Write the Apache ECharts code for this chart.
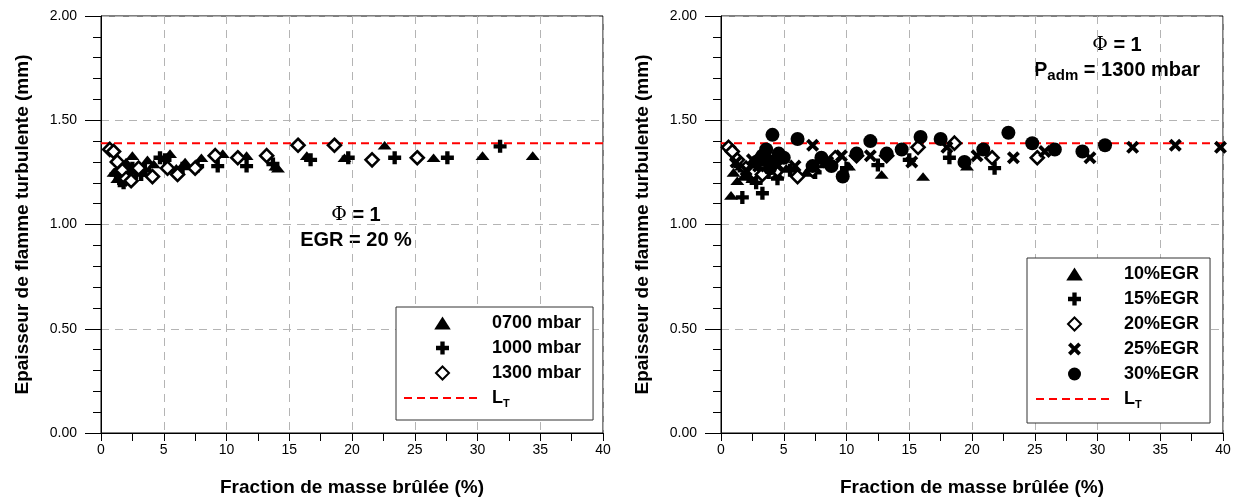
<!DOCTYPE html>
<html><head><meta charset="utf-8">
<script src="https://cdn.jsdelivr.net/npm/echarts@6/dist/echarts.min.js"></script>
<style>html,body{margin:0;padding:0;background:#fff}#c{width:1237px;height:499px}</style>
</head><body><div id="c"></div>
<script>
// ---- data ----
const LT = 1.39;
const xAxisTitle = 'Fraction de masse brûlée (%)';
const yAxisTitle = 'Epaisseur de flamme turbulente (mm)';
const leftNames = ['0700 mbar', '1000 mbar', '1300 mbar'];
const rightNames = ['10%EGR', '15%EGR', '20%EGR', '25%EGR', '30%EGR'];

const p0700 = [[1.0,1.25],[1.3,1.22],[1.6,1.28],[1.8,1.25],[2.0,1.30],[2.3,1.27],[2.5,1.33],[3.0,1.28],[3.7,1.31],[4.2,1.29],[5.5,1.34],[6.0,1.27],[6.7,1.30],[8.0,1.32],[9.7,1.34],[11.6,1.33],[13.9,1.28],[14.1,1.27],[16.4,1.33],[19.4,1.32],[22.6,1.38],[26.5,1.32],[30.4,1.33],[34.4,1.33]];
const p1000 = [[1.2,1.24],[1.5,1.21],[1.8,1.20],[2.2,1.23],[2.5,1.27],[2.8,1.25],[3.2,1.24],[3.5,1.26],[4.7,1.32],[5.1,1.31],[6.5,1.27],[7.7,1.28],[9.3,1.28],[11.6,1.28],[13.7,1.29],[16.7,1.31],[19.7,1.32],[23.4,1.32],[27.6,1.32],[31.8,1.375]];
const p1300 = [[0.7,1.36],[1.0,1.35],[1.3,1.30],[1.7,1.26],[2.0,1.22],[2.4,1.21],[3.0,1.27],[4.1,1.23],[5.3,1.27],[6.1,1.24],[7.5,1.27],[9.1,1.33],[10.9,1.32],[13.2,1.33],[15.7,1.38],[18.6,1.38],[21.6,1.31],[25.2,1.32]];

const egr10 = [[0.8,1.14],[1.0,1.25],[1.3,1.21],[1.6,1.28],[1.8,1.23],[2.0,1.24],[2.3,1.26],[2.5,1.22],[3.0,1.27],[3.5,1.30],[4.0,1.27],[4.5,1.24],[5.2,1.27],[6.8,1.25],[8.2,1.29],[10.2,1.28],[12.8,1.24],[16.1,1.23],[19.6,1.28]];
const egr15 = [[1.7,1.13],[3.3,1.15],[1.5,1.28],[2.2,1.23],[2.5,1.26],[2.8,1.20],[3.8,1.25],[4.0,1.30],[4.5,1.22],[5.5,1.26],[7.5,1.25],[10.0,1.27],[12.5,1.285],[15.0,1.31],[18.2,1.32],[21.8,1.27]];
const egr20 = [[0.6,1.37],[0.9,1.35],[1.3,1.31],[2.0,1.27],[2.6,1.25],[3.3,1.24],[4.5,1.26],[6.1,1.23],[7.3,1.26],[9.1,1.32],[10.8,1.33],[13.2,1.33],[15.7,1.37],[18.6,1.39],[21.6,1.32],[25.2,1.32]];
const egr25 = [[1.2,1.30],[2.0,1.26],[2.5,1.31],[3.0,1.28],[3.6,1.31],[4.5,1.28],[5.9,1.28],[7.3,1.38],[8.5,1.30],[9.6,1.33],[11.9,1.33],[15.2,1.30],[18.0,1.37],[20.4,1.33],[23.3,1.32],[25.8,1.35],[29.4,1.32],[32.8,1.37],[36.2,1.38],[39.8,1.37]];
const egr30 = [[2.8,1.30],[3.3,1.33],[3.6,1.36],[3.9,1.27],[4.0,1.30],[4.1,1.43],[4.4,1.31],[4.6,1.34],[5.0,1.32],[6.1,1.41],[7.3,1.28],[8.0,1.32],[8.8,1.28],[9.7,1.23],[10.8,1.34],[11.9,1.40],[13.2,1.34],[14.4,1.36],[15.9,1.42],[17.5,1.41],[19.4,1.30],[20.9,1.36],[22.9,1.44],[24.8,1.39],[26.6,1.36],[28.8,1.35],[30.6,1.38]];

// ---- styling ----
const FONT = '"Liberation Sans", Arial, sans-serif';
const TRI = 'path://M0,11L7,0L14,11Z';
const DIAM = 'path://M6,0L12,6L6,12L0,6Z';
const PLUS = 'path://M4,0H8V4H12V8H8V12H4V8H0V4H4Z';
const CROSS = 'path://M0,2.5L2.5,0L6,3.5L9.5,0L12,2.5L8.5,6L12,9.5L9.5,12L6,8.5L2.5,12L0,9.5L3.5,6Z';

function xAx(gi) {
  return {
    gridIndex: gi, type: 'value', min: 0, max: 40, interval: 5,
    name: xAxisTitle, nameLocation: 'middle', nameGap: 45,
    nameTextStyle: { fontFamily: FONT, fontWeight: 'bold', fontSize: 19, color: '#000' },
    axisLine: { lineStyle: { color: '#000', width: 1 } },
    axisTick: { inside: false, length: 8, lineStyle: { color: '#000' } },
    minorTick: { show: true, splitNumber: 2, length: 8, lineStyle: { color: '#000' } },
    axisLabel: { fontFamily: FONT, fontSize: 14, color: '#000', margin: 10 },
    splitLine: { show: true, lineStyle: { color: '#b4b4b4', type: [8, 6], width: 1 } }
  };
}
function yAx(gi) {
  return {
    gridIndex: gi, type: 'value', min: 0, max: 2, interval: 0.5,
    name: yAxisTitle, nameLocation: 'middle', nameGap: 69,
    nameTextStyle: { fontFamily: FONT, fontWeight: 'bold', fontSize: 19, color: '#000' },
    axisLine: { show: true, lineStyle: { color: '#000', width: 1 } },
    axisTick: { show: true, inside: false, length: 16, lineStyle: { color: '#000' } },
    minorTick: { show: true, splitNumber: 5, length: 8, lineStyle: { color: '#000' } },
    axisLabel: { fontFamily: FONT, fontSize: 14, color: '#000', margin: 24, formatter: v => v.toFixed(2) },
    splitLine: { show: true, lineStyle: { color: '#b4b4b4', type: [8, 6], width: 1 } }
  };
}
function scat(name, data, gi, symbol, size, hollow) {
  return {
    type: 'scatter', name, data, xAxisIndex: gi, yAxisIndex: gi,
    symbol, symbolSize: size, symbolKeepAspect: true,
    itemStyle: hollow ? { color: '#fff', borderColor: '#000', borderWidth: 2.6, opacity: 1 }
                      : { color: '#000', opacity: 1 },
    emphasis: { disabled: true }, z: 3
  };
}
function ltLine(gi) {
  return {
    type: 'line', name: 'L_T', xAxisIndex: gi, yAxisIndex: gi,
    data: [[0, LT], [40, LT]], symbol: 'none', showSymbol: false, silent: true,
    itemStyle: { color: '#ff0000' },
    lineStyle: { color: '#ff0000', width: 2, type: [8, 5] }, z: 2
  };
}
const legendText = {
  fontFamily: FONT, fontWeight: 'bold', fontSize: 18, color: '#000', padding: [0, 0, 0, 6],
  rich: {
    l: { fontFamily: FONT, fontWeight: 'bold', fontSize: 18, color: '#000' },
    t: { fontFamily: FONT, fontWeight: 'bold', fontSize: 11, color: '#000', padding: [11, 0, 0, 0] }
  }
};
const legendFmt = n => n === 'L_T' ? '{l|L}{t|T}' : n;
const ltItem = { name: 'L_T', itemStyle: { color: 'rgba(0,0,0,0)', borderWidth: 0, opacity: 0 } };

const option = {
  animation: false,
  backgroundColor: '#fff',
  grid: [
    { left: 101, right: 634, top: 16, bottom: 66, show: true, borderColor: '#000', borderWidth: 1,
      outerBoundsMode: 'none', containLabel: false },
    { left: 721, right: 14, top: 16, bottom: 66, show: true, borderColor: '#000', borderWidth: 1,
      outerBoundsMode: 'none', containLabel: false }
  ],
  xAxis: [xAx(0), xAx(1)],
  yAxis: [yAx(0), yAx(1)],
  legend: [
    { data: leftNames.concat([ltItem]), orient: 'vertical', left: 396, top: 307,
      itemWidth: 77, itemHeight: 13, itemGap: 7, padding: [7, 12, 11, 7],
      borderColor: '#333', borderWidth: 1, backgroundColor: '#fff',
      selectedMode: false, textStyle: legendText, formatter: legendFmt },
    { data: rightNames.concat([ltItem]), orient: 'vertical', left: 1027, top: 258,
      itemWidth: 77, itemHeight: 13, itemGap: 7, padding: [7, 11, 13, 8],
      borderColor: '#333', borderWidth: 1, backgroundColor: '#fff',
      selectedMode: false, textStyle: legendText, formatter: legendFmt }
  ],
  graphic: [
    { type: 'text', x: 356, y: 215, style: {
        text: '{p|Φ}{b| = 1}', textAlign: 'center', textVerticalAlign: 'middle',
        rich: { p: { fontFamily: '"DejaVu Serif", serif', fontSize: 19, fill: '#000' },
                b: { fontFamily: FONT, fontWeight: 'bold', fontSize: 20, fill: '#000' } } } },
    { type: 'text', x: 356, y: 240, style: {
        text: 'EGR = 20 %', textAlign: 'center', textVerticalAlign: 'middle',
        font: 'bold 20px ' + FONT, fill: '#000' } },
    { type: 'text', x: 1117, y: 45, style: {
        text: '{p|Φ}{b| = 1}', textAlign: 'center', textVerticalAlign: 'middle',
        rich: { p: { fontFamily: '"DejaVu Serif", serif', fontSize: 19, fill: '#000' },
                b: { fontFamily: FONT, fontWeight: 'bold', fontSize: 20, fill: '#000' } } } },
    { type: 'text', x: 1117, y: 70, style: {
        text: '{b|P}{s|adm}{b| = 1300 mbar}', textAlign: 'center', textVerticalAlign: 'middle',
        rich: { b: { fontFamily: FONT, fontWeight: 'bold', fontSize: 20, fill: '#000' },
                s: { fontFamily: FONT, fontWeight: 'bold', fontSize: 15, fill: '#000', padding: [11, 0, 0, 0] } } } }
  ],
  series: [
    scat(leftNames[0], p0700, 0, TRI, [14, 11]),
    scat(leftNames[1], p1000, 0, PLUS, 13),
    scat(leftNames[2], p1300, 0, DIAM, 13, true),
    ltLine(0),
    scat(rightNames[0], egr10, 1, TRI, [14, 11]),
    scat(rightNames[1], egr15, 1, PLUS, 13),
    scat(rightNames[2], egr20, 1, DIAM, 13, true),
    scat(rightNames[3], egr25, 1, CROSS, 13),
    scat(rightNames[4], egr30, 1, 'circle', 14),
    ltLine(1)
  ]
};
const chart = echarts.init(document.getElementById('c'));
chart.setOption(option);
</script></body></html>
